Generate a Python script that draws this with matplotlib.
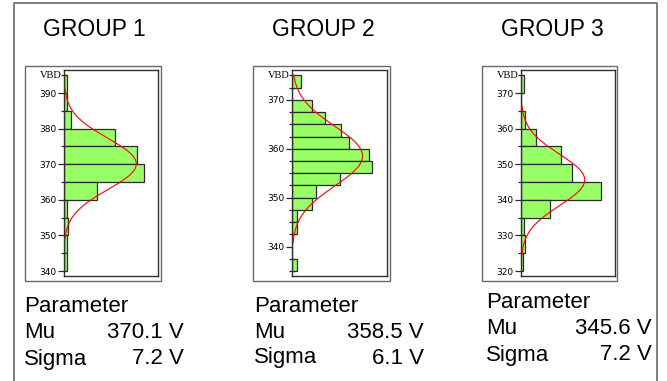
import matplotlib

matplotlib.use("Agg")

import matplotlib.pyplot as plt
import numpy as np
from matplotlib.lines import Line2D
from matplotlib.patches import Rectangle
from matplotlib.ticker import MultipleLocator

W, H = 667, 381

# bin counts, listed from the top bin down
groups = ["GROUP 1", "GROUP 2", "GROUP 3"]
bin_top = [395.0, 375.0, 375.0]
bin_width = [5.0, 2.5, 5.0]
counts_1 = [0.7, 0.7, 2, 14, 20, 22, 9, 0.7, 1, 0.7, 0.7]
counts_2 = [2, 0, 4.3, 7, 10.4, 12.1, 16.4, 17, 10.2, 5, 4.3, 1, 1, 0, 0, 1]
counts_3 = [0.7, 0, 1, 4, 11, 14, 22, 8, 0.7, 1, 0.6]
counts = [counts_1, counts_2, counts_3]
mu = [370.1, 358.5, 345.6]
sigma = [7.2, 6.1, 7.2]
ylims = [(338.6, 396.5), (334.0, 376.1), (318.6, 376.5)]
xmax = [25.75, 20.2, 25.75]

# pixel layout: panel frame, axes box, title centre, text rows
frames = [(25, 66, 161, 281), (253, 66, 390, 281), (482, 66, 617, 281)]
boxes = [(64, 70, 158, 276), (292, 70, 387, 276), (521, 70, 615, 276)]
title_x = [94, 323, 552]
text_left = [24, 254, 486]
text_right = [184, 424, 652]
text_rows = [(307, 333, 359), (307, 333, 358), (303, 329, 355)]

BAR = "#99ff66"
EDGE = "#2a2a2a"
GRAY = "#6a6a6a"
TITLE = dict(family="Liberation Sans", fontsize=16.5, color="black")
BODY = dict(family="Liberation Sans", fontsize=16, color="black")


def fx(x):
    return x / W


def fy(y):
    return 1 - y / H


fig = plt.figure(figsize=(W / 100, H / 100), dpi=100)
fig.patch.set_facecolor("white")

# outer border (open at the bottom)
fig.add_artist(Line2D([fx(14), fx(14), fx(657), fx(657)],
                      [fy(H + 2), fy(3), fy(3), fy(H + 2)],
                      transform=fig.transFigure, color=GRAY, lw=1.2))

for i in range(3):
    fx0, fy0, fx1, fy1 = frames[i]
    fig.add_artist(Rectangle((fx(fx0), fy(fy1)), fx(fx1 - fx0), (fy1 - fy0) / H,
                             transform=fig.transFigure, fill=False,
                             edgecolor=GRAY, lw=1.0))

    x0, y0, x1, y1 = boxes[i]
    ax = fig.add_axes([fx(x0), fy(y1), fx(x1 - x0), (y1 - y0) / H])
    bw = bin_width[i]
    c = np.array(counts[i], dtype=float)
    lows = bin_top[i] - bw * (np.arange(len(c)) + 1)
    ax.barh(lows, c, height=bw, align="edge", color=BAR,
            edgecolor=EDGE, lw=0.9, zorder=2)

    # fitted normal curve, scaled to the histogram area
    area = c.sum() * bw
    yy = np.linspace(mu[i] - 2.9 * sigma[i], min(mu[i] + 2.9 * sigma[i], bin_top[i]), 300)
    xx = area * np.exp(-0.5 * ((yy - mu[i]) / sigma[i]) ** 2) / (sigma[i] * np.sqrt(2 * np.pi))
    ax.plot(xx, yy, color="red", lw=0.8, zorder=3)

    ax.set_ylim(*ylims[i])
    ax.set_xlim(0, xmax[i])
    ax.set_xticks([])
    ax.yaxis.set_major_locator(MultipleLocator(10))
    ax.yaxis.set_minor_locator(MultipleLocator(bw))
    ax.tick_params(axis="y", which="major", length=4, width=0.9, pad=1.5,
                   labelsize=6.5, color=EDGE)
    ax.tick_params(axis="y", which="minor", direction="inout", length=5,
                   width=0.9, color=EDGE)
    for lab in ax.get_yticklabels():
        lab.set_family("DejaVu Sans")
    for sp in ax.spines.values():
        sp.set_color("#303030")
        sp.set_linewidth(1.0)
    ax.text(-0.03, (bin_top[i] - ylims[i][0]) / (ylims[i][1] - ylims[i][0]), "VBD",
            transform=ax.transAxes, ha="right", va="center",
            family="Liberation Serif", fontsize=7.5)

    fig.text(fx(title_x[i]), fy(30), groups[i], ha="center", va="center", **TITLE)
    r0, r1, r2 = text_rows[i]
    fig.text(fx(text_left[i]), fy(r0), "Parameter", ha="left", va="center", **BODY)
    fig.text(fx(text_left[i]), fy(r1), "Mu", ha="left", va="center", **BODY)
    fig.text(fx(text_left[i]), fy(r2), "Sigma", ha="left", va="center", **BODY)
    fig.text(fx(text_right[i]), fy(r1), f"{mu[i]:.1f} V", ha="right", va="center", **BODY)
    fig.text(fx(text_right[i]), fy(r2), f"{sigma[i]:.1f} V", ha="right", va="center", **BODY)

fig.savefig("out.png", dpi=100)
